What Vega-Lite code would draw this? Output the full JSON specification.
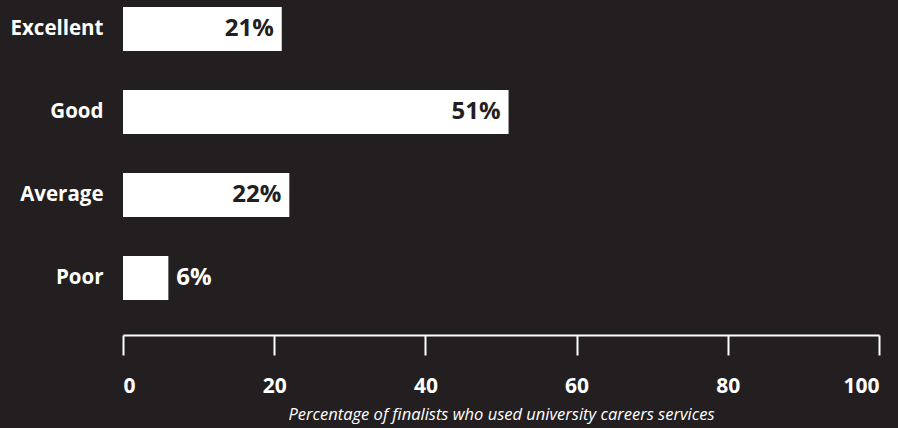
{
  "$schema": "https://vega.github.io/schema/vega-lite/v6.json",
  "autosize": "none",
  "width": 756,
  "height": 307,
  "padding": {"left": 123, "top": 0, "right": 19, "bottom": 121},
  "background": "#231f20",
  "config": {"view": {"stroke": null}, "font": "Open Sans"},
  "data": {"values": [
    {"rating": "Excellent", "value": 21, "label": "21%"},
    {"rating": "Good", "value": 51, "label": "51%"},
    {"rating": "Average", "value": 22, "label": "22%"},
    {"rating": "Poor", "value": 6, "label": "6%"}
  ]},
  "encoding": {
    "y": {"field": "rating", "type": "nominal", "sort": null,
      "scale": {"paddingInner": 0.47, "paddingOuter": 0.085},
      "axis": {"title": null, "domain": false, "ticks": false, "labelPadding": 20,
        "labelFont": "Open Sans", "labelFontWeight": "bold", "labelFontSize": 20.5, "labelColor": "#ffffff"}},
    "x": {"field": "value", "type": "quantitative",
      "scale": {"domain": [0, 100], "nice": false},
      "axis": {"title": "Percentage of finalists who used university careers services",
        "values": [0, 20, 40, 60, 80, 100], "grid": false, "offset": 28,
        "domainColor": "#ffffff", "domainWidth": 2, "tickColor": "#ffffff", "tickWidth": 2, "tickSize": 20,
        "labelPadding": 20, "labelFont": "Open Sans", "labelFontWeight": "bold", "labelFontSize": 21, "labelColor": "#ffffff",
        "titleFont": "Open Sans", "titleFontStyle": "italic", "titleFontWeight": "normal", "titleFontSize": 16.5, "titleColor": "#ffffff", "titlePadding": 10}}
  },
  "layer": [
    {"mark": {"type": "bar", "color": "#ffffff"}},
    {"transform": [{"filter": "datum.value >= 10"}],
      "mark": {"type": "text", "align": "right", "dx": -8, "fontSize": 24, "fontWeight": "bold", "color": "#231f20"},
      "encoding": {"text": {"field": "label", "type": "nominal"}}},
    {"transform": [{"filter": "datum.value < 10"}],
      "mark": {"type": "text", "align": "left", "dx": 8, "fontSize": 24, "fontWeight": "bold", "color": "#ffffff"},
      "encoding": {"text": {"field": "label", "type": "nominal"}}}
  ]
}
